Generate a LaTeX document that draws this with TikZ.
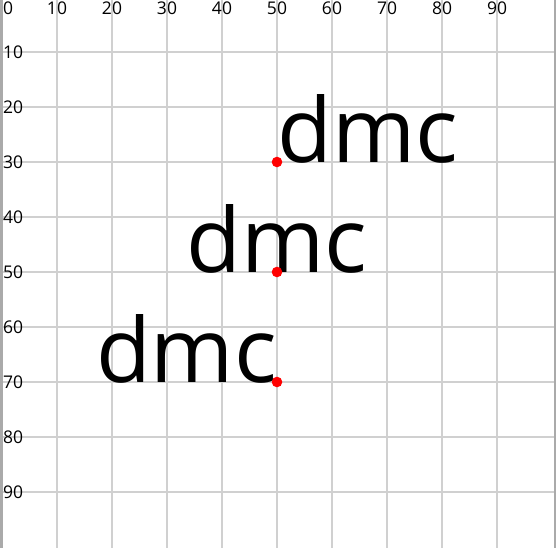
\documentclass[tikz,border=0pt]{standalone}
\usepackage{fontspec}
\setmainfont{Open Sans}
\begin{document}
\begin{tikzpicture}[x=1pt,y=-1pt,
  gridline/.style={draw={rgb,255:red,208;green,208;blue,208},line width=2pt},
  edgeline/.style={draw={rgb,255:red,170;green,170;blue,170},line width=2.5pt},
  ticklabel/.style={inner sep=0pt,font=\fontsize{17.5}{20}\selectfont},
  bigtext/.style={inner sep=0pt,font=\fontsize{89.5}{100}\selectfont},
  dot/.style={fill=red,draw=none}]
\useasboundingbox[fill=white] (0,0) rectangle (556,548);
% grid
\foreach \i in {1,...,9} {
  \draw[gridline] ({2+55*\i},0) -- ({2+55*\i},548);
  \draw[gridline] (0,{-3+55*\i}) -- (556,{-3+55*\i});
}
\draw[edgeline] (1.25,0) -- (1.25,548);
\draw[edgeline] (554.75,0) -- (554.75,548);
% tick labels
\node[ticklabel,anchor=base west] (t0) at (3,15) {0};
\foreach \i in {1,...,9} {
  \pgfmathtruncatemacro{\v}{10*\i}
  \node[ticklabel,anchor=base] (tx\i) at ({2+55*\i},15) {\v};
  \node[ticklabel,anchor=west] (ty\i) at (3,{-3+55*\i}) {\v};
}
% texts
\node[bigtext,anchor=base west] (ts) at (277,162) {dmc};
\node[bigtext,anchor=base] (tm) at (277,272) {dmc};
\node[bigtext,anchor=base east] (te) at (277,382) {dmc};
% dots
\fill[dot] (277,162) circle (5.3);
\fill[dot] (277,272) circle (5.3);
\fill[dot] (277,382) circle (5.3);
\end{tikzpicture}
\end{document}
